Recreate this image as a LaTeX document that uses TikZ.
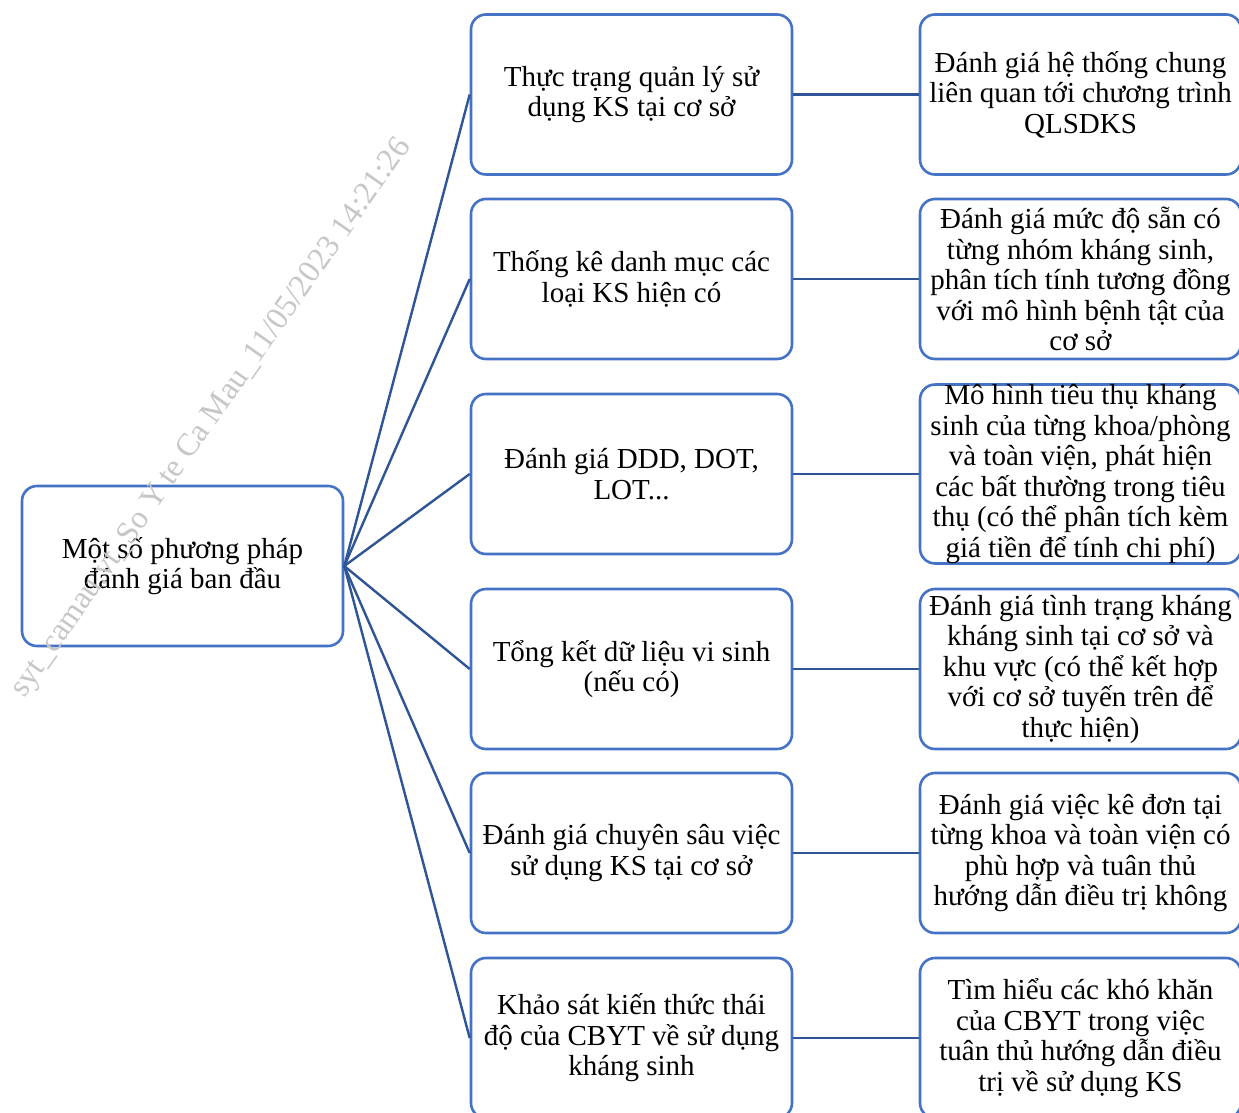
\documentclass[tikz,border=0pt]{standalone}
\usepackage{fontspec}
\setmainfont{Liberation Serif}
\definecolor{boxblue}{RGB}{68,114,196}
\definecolor{lineblue}{RGB}{47,85,151}
\begin{document}
\begin{tikzpicture}[x=1pt,y=-1pt,
  box/.style={draw=boxblue,line width=2.6pt,rounded corners=15pt,minimum width=321pt,minimum height=160pt,inner sep=0pt,align=center,font=\fontsize{29}{30.5}\selectfont},
  link/.style={draw=lineblue,line width=2.4pt},
  wm/.style={text=black!22,font=\fontsize{32}{34}\selectfont,rotate=55}]
\useasboundingbox (0,0) rectangle (1239,1113);
\fill[white] (0,0) rectangle (1239,1113);
\node[box] (root) at (182.5,566) {Một số phương pháp\\đánh giá ban đầu};
\node[box] (m1) at (631.5,94.5) {Thực trạng quản lý sử\\dụng KS tại cơ sở};
\node[box] (m2) at (631.5,279) {Thống kê danh mục các\\loại KS hiện có};
\node[box] (m3) at (631.5,474) {Đánh giá DDD, DOT,\\LOT...};
\node[box] (m4) at (631.5,669) {Tổng kết dữ liệu vi sinh\\(nếu có)};
\node[box] (m5) at (631.5,853) {Đánh giá chuyên sâu việc\\sử dụng KS tại cơ sở};
\node[box] (m6) at (631.5,1038) {Khảo sát kiến thức thái\\độ của CBYT về sử dụng\\kháng sinh};
\node[box] (r1) at (1080.5,94.5) {Đánh giá hệ thống chung\\liên quan tới chương trình\\QLSDKS};
\node[box] (r2) at (1080.5,279) {Đánh giá mức độ sẵn có\\từng nhóm kháng sinh,\\phân tích tính tương đồng\\với mô hình bệnh tật của\\cơ sở};
\node[box] (r3) at (1080.5,474) {Mô hình tiêu thụ kháng\\sinh của từng khoa/phòng\\và toàn viện, phát hiện\\các bất thường trong tiêu\\thụ (có thể phân tích kèm\\giá tiền để tính chi phí)};
\node[box] (r4) at (1080.5,669) {Đánh giá tình trạng kháng\\kháng sinh tại cơ sở và\\khu vực (có thể kết hợp\\với cơ sở tuyến trên để\\thực hiện)};
\node[box] (r5) at (1080.5,853) {Đánh giá việc kê đơn tại\\từng khoa và toàn viện có\\phù hợp và tuân thủ\\hướng dẫn điều trị không};
\node[box] (r6) at (1080.5,1038) {Tìm hiểu các khó khăn\\của CBYT trong việc\\tuân thủ hướng dẫn điều\\trị về sử dụng KS};
\foreach \i in {1,...,6}{
  \draw[link] (root.east) -- (m\i.west);
  \draw[link] (m\i.east) -- (r\i.west);
}
\node[wm] (wmark) at (212,418) {syt\_camau.vt\_So Y te Ca Mau\_11/05/2023 14:21:26};
\end{tikzpicture}
\end{document}
